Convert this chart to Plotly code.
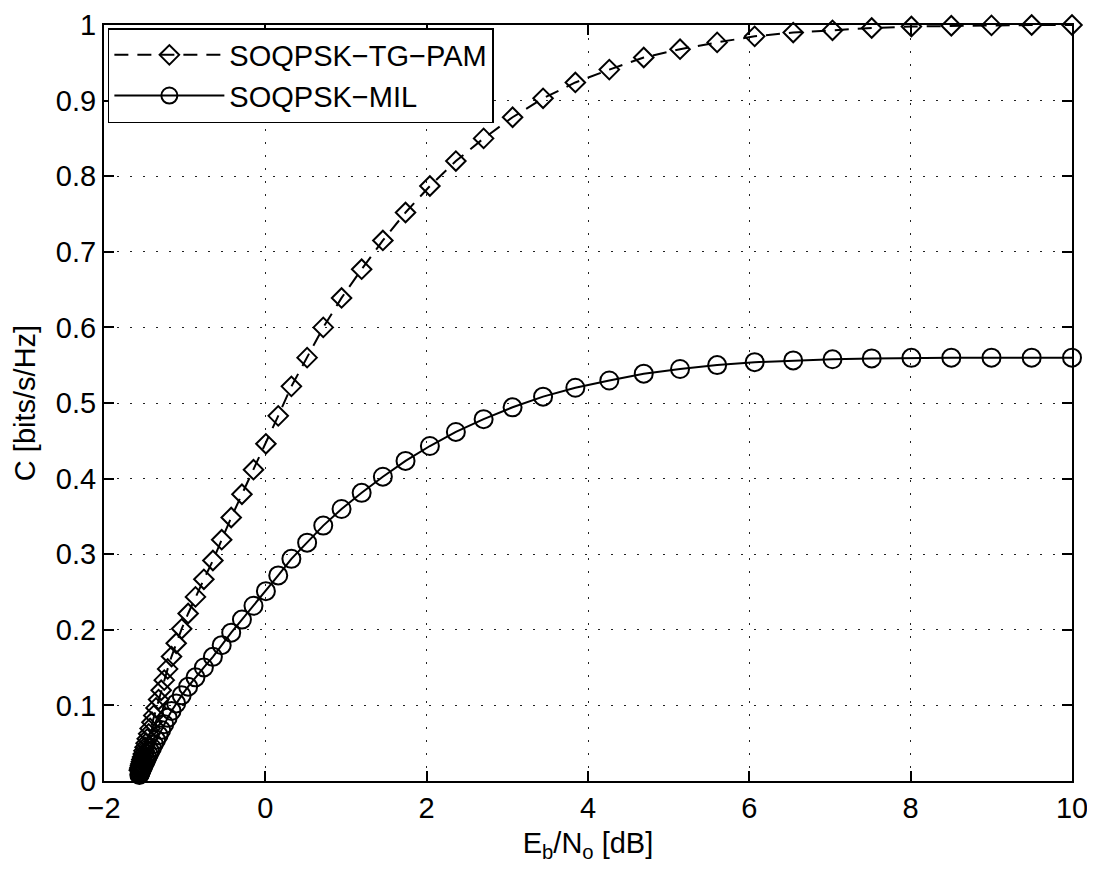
import plotly.graph_objects as go

# Eb/No [dB] sample points (shared by both curves)
ebno_db = [-1.562, -1.557, -1.553, -1.548, -1.544, -1.537, -1.531, -1.522, -1.513, -1.504,
           -1.491, -1.478, -1.464, -1.446, -1.428, -1.406, -1.383, -1.355, -1.323, -1.291,
           -1.253, -1.211, -1.163, -1.105, -1.037, -0.957, -0.866, -0.762, -0.650, -0.541,
           -0.423, -0.290, -0.147, 0.007, 0.160, 0.323, 0.518, 0.718, 0.945, 1.194,
           1.457, 1.738, 2.040, 2.362, 2.706, 3.065, 3.443, 3.843, 4.264, 4.691,
           5.141, 5.601, 6.066, 6.544, 7.031, 7.517, 8.009, 8.504, 9.002, 9.500, 10.000]

# Capacity [bits/s/Hz], SOQPSK-TG-PAM
cap_tg_pam = [0.0143, 0.0160, 0.0180, 0.0201, 0.0225, 0.0254, 0.0284, 0.0318, 0.0356, 0.0399,
              0.0445, 0.0499, 0.0558, 0.0624, 0.0696, 0.0777, 0.0868, 0.0967, 0.1077, 0.1200,
              0.1334, 0.1483, 0.1646, 0.1822, 0.2013, 0.2216, 0.2435, 0.2668, 0.2917, 0.3192,
              0.3485, 0.3793, 0.4118, 0.4460, 0.4830, 0.5220, 0.5600, 0.6000, 0.6390, 0.6770,
              0.7150, 0.7520, 0.7870, 0.8200, 0.8500, 0.8780, 0.9030, 0.9240, 0.9410, 0.9570,
              0.9680, 0.9770, 0.9850, 0.9900, 0.9930, 0.9960, 0.9980, 0.9990, 0.9995, 1.0000, 1.0000]

# Capacity [bits/s/Hz], SOQPSK-MIL
cap_mil = [0.0081, 0.0090, 0.0101, 0.0113, 0.0127, 0.0143, 0.0160, 0.0179, 0.0200, 0.0225,
           0.0251, 0.0281, 0.0314, 0.0351, 0.0392, 0.0437, 0.0489, 0.0544, 0.0606, 0.0676,
           0.0751, 0.0835, 0.0927, 0.1026, 0.1133, 0.1248, 0.1371, 0.1502, 0.1642, 0.1797,
           0.1962, 0.2135, 0.2318, 0.2511, 0.2719, 0.2939, 0.3153, 0.3378, 0.3598, 0.3812,
           0.4025, 0.4234, 0.4431, 0.4617, 0.4786, 0.4943, 0.5084, 0.5202, 0.5298, 0.5388,
           0.5450, 0.5501, 0.5540, 0.5563, 0.5578, 0.5590, 0.5597, 0.5600, 0.5600, 0.5600, 0.5600]

x_ticks = [-2, 0, 2, 4, 6, 8, 10]
y_ticks = [0, 0.1, 0.2, 0.3, 0.4, 0.5, 0.6, 0.7, 0.8, 0.9, 1]
y_tick_labels = ["0", "0.1", "0.2", "0.3", "0.4", "0.5", "0.6", "0.7", "0.8", "0.9", "1"]

FONT = "Liberation Sans, Arial, Helvetica, sans-serif"
FS = 29

fig = go.Figure()
fig.add_trace(go.Scatter(
    x=ebno_db, y=cap_tg_pam, name="SOQPSK\u2212TG\u2212PAM",
    mode="lines+markers", cliponaxis=False,
    line=dict(color="black", width=2, dash="14px,9px"),
    marker=dict(symbol="diamond-open", size=15, color="black",
                line=dict(width=2, color="black")),
))
fig.add_trace(go.Scatter(
    x=ebno_db, y=cap_mil, name="SOQPSK\u2212MIL",
    mode="lines+markers", cliponaxis=False,
    line=dict(color="black", width=2),
    marker=dict(symbol="circle-open", size=18, color="black",
                line=dict(width=2, color="black")),
))

axis_common = dict(
    showline=True, linecolor="black", linewidth=2, mirror="ticks",
    ticks="inside", ticklen=10, tickwidth=1.5, tickcolor="black",
    showgrid=True, gridcolor="#222222", gridwidth=1.2, griddash="2px,11px",
    zeroline=False, ticklabeloverflow="allow",
    tickfont=dict(family=FONT, size=FS, color="black"),
)

fig.update_xaxes(range=[-2, 10], tickvals=x_ticks,
                 title=dict(text="E<sub>b</sub>/N<sub>o</sub> [dB]",
                            font=dict(family=FONT, size=FS, color="black"), standoff=10),
                 **axis_common)
fig.update_yaxes(range=[0, 1], tickvals=y_ticks, ticktext=y_tick_labels,
                 title=dict(text="C [bits/s/Hz]",
                            font=dict(family=FONT, size=FS, color="black"), standoff=12),
                 **axis_common)

# page body has an 8px margin; plot area targets x 104..1072, y 25..781 on screen
fig.update_layout(
    width=1095, height=869, autosize=False,
    margin=dict(l=96, r=31, t=17, b=96, autoexpand=False),
    paper_bgcolor="white", plot_bgcolor="white",
    font=dict(family=FONT, size=FS, color="black"),
    showlegend=True,
    legend=dict(x=0.004, y=0.996, xanchor="left", yanchor="top",
                bgcolor="white", bordercolor="black", borderwidth=1.5,
                font=dict(family=FONT, size=FS, color="black"),
                itemwidth=110, tracegroupgap=0),
)

fig.write_html("out.html")
